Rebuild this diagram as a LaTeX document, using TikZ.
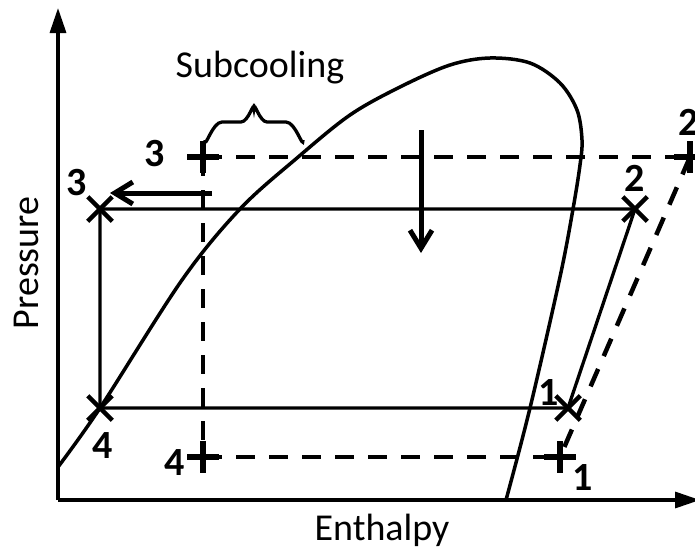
\documentclass[tikz,border=0pt]{standalone}
\usepackage{fontspec}
\setmainfont{Carlito}
\usetikzlibrary{arrows.meta,shapes.misc}
\begin{document}
\begin{tikzpicture}[x=1pt,y=-1pt,
  axis/.style={line width=3.3pt,-{Triangle[length=25pt,width=16pt]}},
  cyc/.style={line width=3.3pt},
  dsh/.style={line width=4.5pt,dash pattern=on 19pt off 14pt},
  sat/.style={line width=3.5pt},
  mv/.style={line width=5pt,-{Straight Barb[length=18pt,width=22pt]}},
  xm/.style={draw,cross out,minimum size=20pt,inner sep=0pt,line width=4.5pt},
  pm/.style={draw,cross out,rotate=45,minimum size=17pt,inner sep=0pt,line width=5.5pt},
  lbl/.style={font=\bfseries\fontsize{40}{40}\selectfont,inner sep=0pt},
  txt/.style={font=\fontsize{38}{38}\selectfont,inner sep=0pt}]
\useasboundingbox (0,0) rectangle (695,546);
% axes
\coordinate (o) at (58,500);
\coordinate (ytip) at (58,8);
\coordinate (xtip) at (700,500);
\draw[axis] (o) -- (ytip);
\draw[axis] (o) -- (xtip);
% saturation dome
\draw[sat] plot[smooth,tension=0.55] coordinates {(58,467) (100,408) (182,280) (240,209) (297,158) (350,115) (400,87) (450,65) (490,58) (530,63) (560,83) (577,110) (582,140) (580,165) (573,209) (560,277) (530,408) (506,500)};
% points of the solid cycle
\node[xm] (p3) at (100,209) {};
\node[xm] (p2) at (635,209) {};
\node[xm] (p1) at (568,408) {};
\node[xm] (p4) at (100,408) {};
% points of the dashed cycle
\node[pm] (q3) at (203,157) {};
\node[pm] (q2) at (690,157) {};
\node[pm] (q1) at (560,457) {};
\node[pm] (q4) at (203,457) {};
% cycles
\draw[cyc] (p3.center) -- (p2.center) -- (p1.center) -- (p4.center) -- cycle;
\draw[dsh] (q3.center) -- (q2.center);
\draw[dsh] (q2.center) -- (q1.center);
\draw[dsh] (q4.center) -- (q1.center);
\draw[dsh] (q3.center) -- (q4.center);
% labels
\node[lbl] (l3) at (77,183) {3};
\node[lbl] (l3d) at (155,154) {3};
\node[lbl] (l2) at (635,178) {2};
\node[lbl] (l2d) at (689,122) {2};
\node[lbl] (l1) at (549,393) {1};
\node[lbl] (l1d) at (583,478) {1};
\node[lbl] (l4) at (103,446) {4};
\node[lbl] (l4d) at (175,463) {4};
% movement arrows
\coordinate (a1s) at (212,193);
\coordinate (a1e) at (110,193);
\draw[mv] (a1s) -- (a1e);
\coordinate (a2s) at (421,130);
\coordinate (a2e) at (421,253);
\draw[mv] (a2s) -- (a2e);
% brace
\draw[line width=3.3pt] (205,140) to[out=-90,in=180] (222,122) -- (241,122) to[out=0,in=90] (254,108) to[out=90,in=180] (267,122) -- (286,122) to[out=0,in=-90] (303,140);
% texts
\node[txt,anchor=base] (sub) at (260,77) {Subcooling};
\node[txt,anchor=base] (xl) at (382,540) {Enthalpy};
\node[txt,anchor=base,rotate=90] (yl) at (38,263) {Pressure};
\end{tikzpicture}
\end{document}
